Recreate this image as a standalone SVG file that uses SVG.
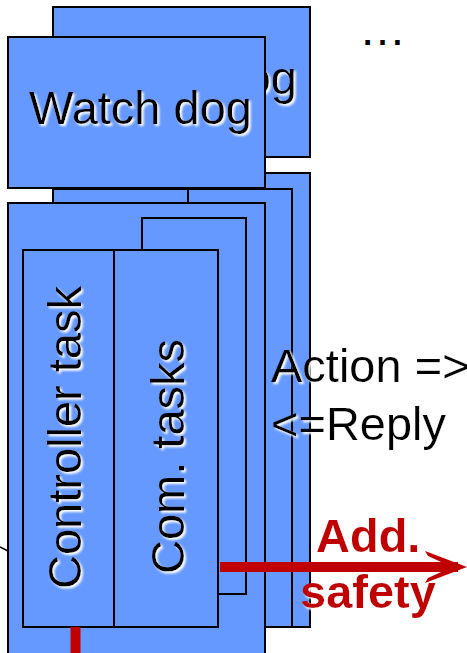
<svg xmlns="http://www.w3.org/2000/svg" width="467" height="653" viewBox="0 0 467 653">
<defs>
<style>
.box{fill:#6699FF;stroke:#000;stroke-width:2}
.ln{fill:none;stroke:#000;stroke-width:2}
.t{font-family:"Liberation Sans",Arial,sans-serif;font-size:47px;fill:#000}
.r{font-family:"Liberation Sans",Arial,sans-serif;font-size:47px;font-weight:bold;fill:#C00000}
</style>
<filter id="glow" x="-10%" y="-20%" width="120%" height="140%">
<feGaussianBlur in="SourceAlpha" stdDeviation="1"/>
<feOffset dx="1.5" dy="1.5" result="o"/>
<feFlood flood-color="#fff"/>
<feComposite in2="o" operator="in"/>
<feMerge><feMergeNode/><feMergeNode in="SourceGraphic"/></feMerge>
</filter>
</defs>
<rect width="467" height="653" fill="#fff"/>
<g id="connectors">
<line x1="0" y1="547" x2="8" y2="551" stroke="#000" stroke-width="1.5"/>
</g>
<g id="watchdog-back">
<rect class="box" x="53" y="7" width="257" height="150"/>
<g filter="url(#glow)"><text class="t" x="185.5" y="94" text-anchor="middle">Watch dog</text></g>
</g>
<g id="node-back">
<rect class="box" x="53" y="173" width="257" height="454"/>
<rect class="box" x="53" y="189" width="239" height="438"/>
<line class="ln" x1="188" y1="189" x2="188" y2="204"/>
</g>
<g id="node-front">
<rect class="box" x="8" y="203" width="257" height="460"/>
<rect class="box" x="142" y="218" width="104" height="376"/>
</g>
<g id="controller-task">
<rect class="box" x="23" y="250" width="91" height="377"/>
<g filter="url(#glow)"><text class="t" transform="translate(81,437.5) rotate(-90)" text-anchor="middle">Controller task</text></g>
</g>
<g id="com-tasks">
<rect class="box" x="114" y="250" width="104" height="377"/>
<g filter="url(#glow)"><text class="t" transform="translate(184,456.5) rotate(-90)" text-anchor="middle">Com. tasks</text></g>
</g>
<g id="watchdog-front">
<rect class="box" x="8" y="37" width="257" height="151"/>
<g filter="url(#glow)"><text class="t" x="140.5" y="124" text-anchor="middle">Watch dog</text></g>
</g>
<g id="ellipsis">
<text class="t" x="359" y="45" font-size="48">…</text>
</g>
<g id="labels" filter="url(#glow)">
<text class="t" x="271" y="382">Action =&gt;</text>
<text class="t" x="271" y="440">&lt;=Reply</text>
</g>
<g id="safety">
<line x1="220" y1="567" x2="458" y2="567" stroke="#C00000" stroke-width="10"/>
<polygon points="425,551 467,567 425,583 428,578 452,567 428,556" fill="#C00000"/>
<line x1="75.5" y1="627" x2="75.5" y2="653" stroke="#C00000" stroke-width="10"/>
<g filter="url(#glow)">
<text class="r" x="316" y="552">Add.</text>
<text class="r" x="300" y="608">safety</text>
</g>
</g>
</svg>
